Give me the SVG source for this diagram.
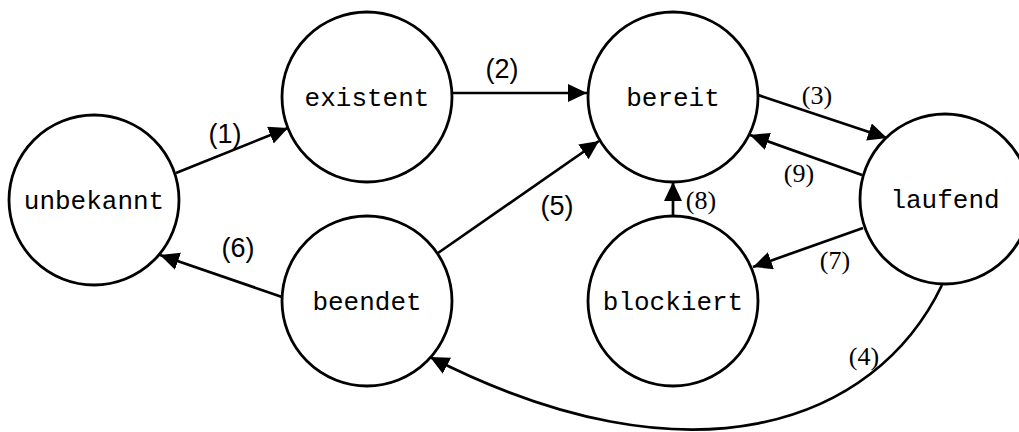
<svg xmlns="http://www.w3.org/2000/svg" width="1019" height="432" viewBox="0 0 1019 432">
  <style>
    .state circle { fill: #fff; stroke: #000; stroke-width: 2.8; }
    .state text { font-family: "Liberation Mono", "Courier New", monospace; font-size: 26px; fill: #000; text-anchor: middle; }
    .edge { fill: none; stroke: #000; stroke-width: 2.7; marker-end: url(#arrow); }
    .lbl-sans { font-family: "Liberation Sans", Arial, sans-serif; font-size: 27px; fill: #000; text-anchor: middle; }
    .lbl-serif { font-family: "Liberation Serif", "Times New Roman", serif; font-size: 26px; fill: #000; text-anchor: middle; }
  </style>
  <defs>
    <marker id="arrow" markerUnits="userSpaceOnUse" markerWidth="22" markerHeight="20" refX="19" refY="9" orient="auto">
      <path d="M0,0 L19,9 L0,18 z" fill="#000"/>
    </marker>
  </defs>

  <rect width="1019" height="432" fill="#fff"/>

  <!-- transitions -->
  <g id="connectors">
    <path class="edge" d="M176,173 L288,128"/>
    <path class="edge" d="M452,93 L587,93"/>
    <path class="edge" d="M758,95 L887,138"/>
    <path class="edge" d="M942,285 C875,425 690,490 430,357"/>
    <path class="edge" d="M438,253 L599,141"/>
    <path class="edge" d="M282,297 L160,255"/>
    <path class="edge" d="M863,228 L753,267"/>
    <path class="edge" d="M673,216 L673,182"/>
    <path class="edge" d="M862,175 L750,135"/>
  </g>

  <!-- states -->
  <g id="unbekannt" class="state">
    <circle cx="94" cy="200" r="85"/>
    <text x="94" y="209">unbekannt</text>
  </g>
  <g id="existent" class="state">
    <circle cx="367" cy="97" r="85"/>
    <text x="367" y="106">existent</text>
  </g>
  <g id="bereit" class="state">
    <circle cx="673" cy="97" r="85"/>
    <text x="673" y="106">bereit</text>
  </g>
  <g id="laufend" class="state">
    <circle cx="945" cy="199" r="85"/>
    <text x="945" y="208">laufend</text>
  </g>
  <g id="beendet" class="state">
    <circle cx="367" cy="301" r="85"/>
    <text x="367" y="310">beendet</text>
  </g>
  <g id="blockiert" class="state">
    <circle cx="673" cy="301" r="85"/>
    <text x="673" y="310">blockiert</text>
  </g>

  <!-- transition numbers -->
  <g id="labels">
    <text class="lbl-sans" x="225" y="143">(1)</text>
    <text class="lbl-sans" x="502" y="78">(2)</text>
    <text class="lbl-serif" x="817" y="104">(3)</text>
    <text class="lbl-serif" x="864" y="365">(4)</text>
    <text class="lbl-sans" x="557" y="215">(5)</text>
    <text class="lbl-sans" x="238" y="257">(6)</text>
    <text class="lbl-serif" x="835" y="269">(7)</text>
    <text class="lbl-serif" x="701" y="209">(8)</text>
    <text class="lbl-serif" x="799" y="182">(9)</text>
  </g>
</svg>
